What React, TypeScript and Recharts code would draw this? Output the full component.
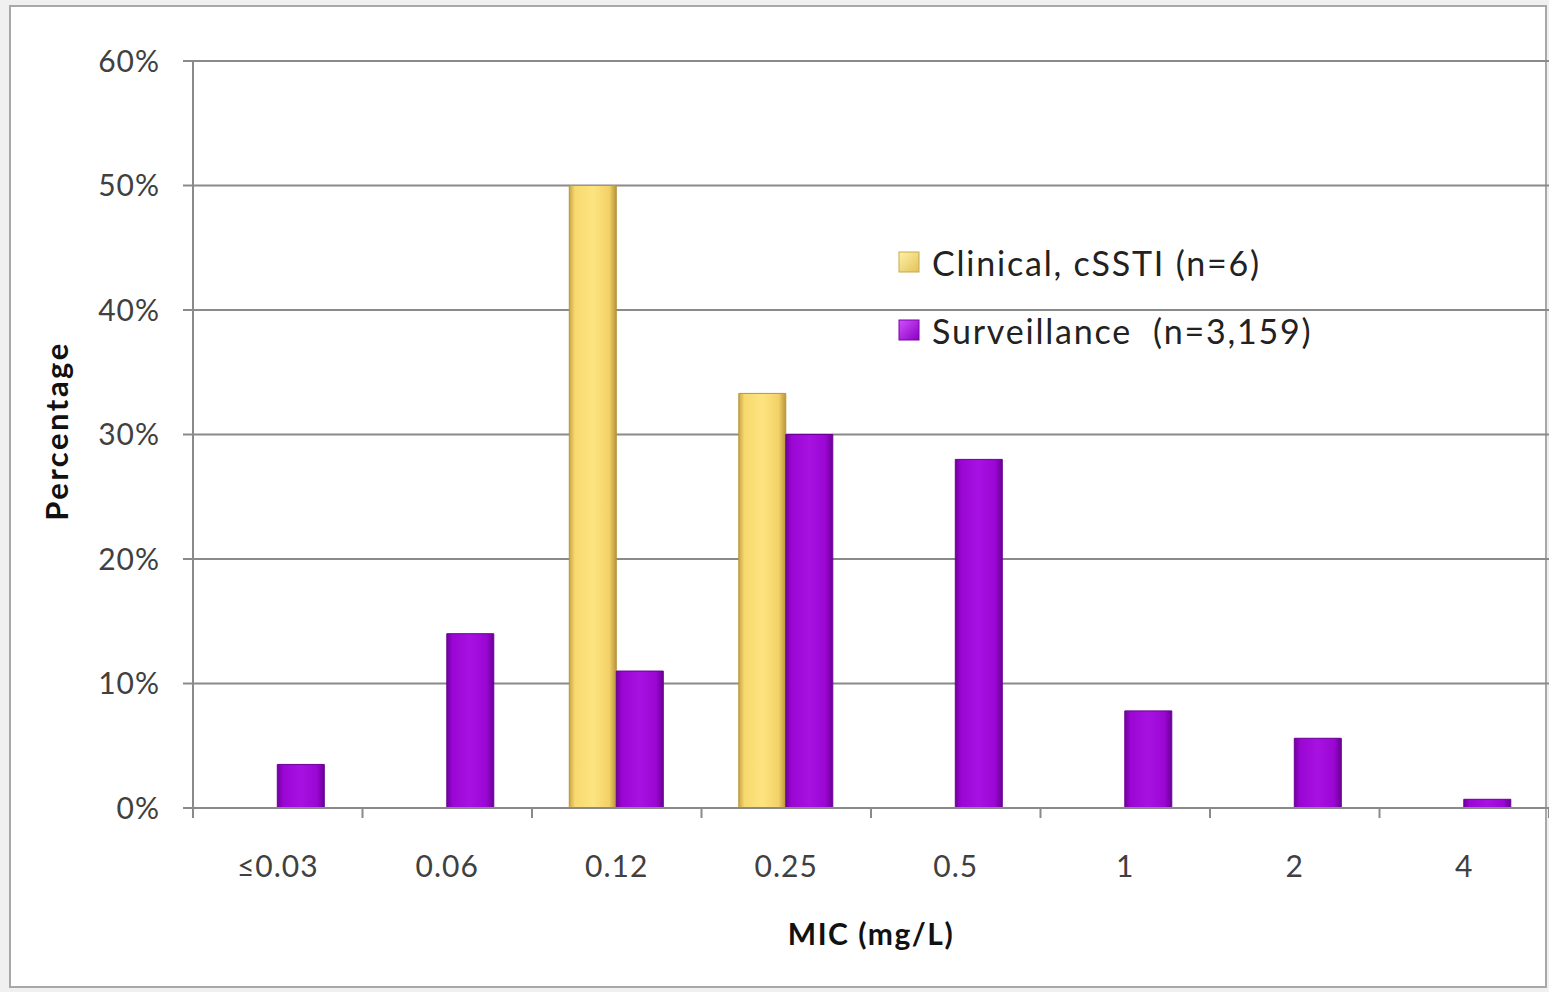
import React from 'react';
import {
  BarChart,
  Bar,
  XAxis,
  YAxis,
  CartesianGrid,
  Legend,
  Label,
} from 'recharts';

// MIC categories and percentage of isolates per category
const categories = ['≤0.03', '0.06', '0.12', '0.25', '0.5', '1', '2', '4'];
const clinical = [0, 0, 50, 33.3, 0, 0, 0, 0];
const surveillance = [3.5, 14, 11, 30, 28, 7.8, 5.6, 0.7];
const yTicks = [0, 10, 20, 30, 40, 50, 60];

const seriesNames: Record<string, string> = {
  clinical: 'Clinical, cSSTI (n=6)',
  surveillance: 'Surveillance  (n=3,159)',
};

const W = 1549;
const H = 992;
const PLOT_LEFT = 193;
const BAND = (W - PLOT_LEFT) / categories.length;
const GRID = '#8a8a8a';
const FONT = 'Lato, "Open Sans", sans-serif';

const data = categories.map((c, i) => ({
  mic: c,
  clinical: clinical[i],
  surveillance: surveillance[i],
}));

const XTick = (props: any) => {
  const { x, y, payload, index } = props;
  return (
    <g>
      <line x1={x - BAND / 2} x2={x - BAND / 2} y1={y - 10} y2={y} stroke={GRID} strokeWidth={2} />
      {index === categories.length - 1 && (
        <line x1={x + BAND / 2} x2={x + BAND / 2} y1={y - 10} y2={y} stroke={GRID} strokeWidth={2} />
      )}
      <text
        x={x}
        y={y + 59}
        textAnchor="middle"
        fill="#404040"
        fontSize={30}
        letterSpacing={1}
        fontFamily={FONT}
      >
        {payload.value}
      </text>
    </g>
  );
};

const swatch: Record<string, string> = {
  clinical: 'url(#lgYellow)',
  surveillance: 'url(#lgPurple)',
};

const LegendBox = (props: any) => {
  const { payload } = props;
  return (
    <div style={{ fontFamily: FONT }}>
      {(payload || []).map((p: any) => (
        <div
          key={p.dataKey}
          style={{ display: 'flex', alignItems: 'center', height: 68, fontSize: 34, color: '#222' }}
        >
          <svg width={22} height={22} style={{ marginRight: 12 }}>
            <rect
              x={1}
              y={1}
              width={20}
              height={20}
              fill={swatch[p.dataKey]}
              stroke={p.dataKey === 'clinical' ? '#c9a94a' : '#7a00a8'}
            />
          </svg>
          <span style={{ whiteSpace: 'pre', letterSpacing: 1.8 }}>{seriesNames[p.dataKey]}</span>
        </div>
      ))}
    </div>
  );
};

export default function App() {
  return (
    <div style={{ position: 'absolute', left: 0, top: 0, width: W, height: H, background: '#f0f0f0' }}>
      <div
        style={{
          position: 'absolute',
          left: 9,
          top: 5,
          width: W - 11,
          height: H - 9,
          background: '#fff',
          border: '2px solid #a8a8a8',
          boxSizing: 'border-box',
        }}
      />
      <div style={{ position: 'absolute', left: 0, top: 0 }}>
        <BarChart
          width={W}
          height={H}
          data={data}
          margin={{ top: 61, right: 0, left: 0, bottom: 0 }}
          barCategoryGap="22%"
          barGap={0}
        >
          <defs>
            <linearGradient id="gYellow" x1="0" y1="0" x2="1" y2="0">
              <stop offset="0%" stopColor="#c9a74a" />
              <stop offset="12%" stopColor="#f7d96e" />
              <stop offset="50%" stopColor="#fde480" />
              <stop offset="85%" stopColor="#f3d167" />
              <stop offset="100%" stopColor="#b8953a" />
            </linearGradient>
            <linearGradient id="gPurple" x1="0" y1="0" x2="1" y2="0">
              <stop offset="0%" stopColor="#7000a0" />
              <stop offset="12%" stopColor="#9a06d2" />
              <stop offset="50%" stopColor="#a712e2" />
              <stop offset="85%" stopColor="#9a06d2" />
              <stop offset="100%" stopColor="#6a0096" />
            </linearGradient>
            <linearGradient id="lgYellow" x1="0" y1="0" x2="1" y2="1">
              <stop offset="0%" stopColor="#fff1a8" />
              <stop offset="100%" stopColor="#e3c258" />
            </linearGradient>
            <linearGradient id="lgPurple" x1="0" y1="0" x2="1" y2="1">
              <stop offset="0%" stopColor="#d050ff" />
              <stop offset="100%" stopColor="#8a00c0" />
            </linearGradient>
          </defs>
          <CartesianGrid vertical={false} stroke={GRID} strokeWidth={2} />
          <XAxis
            dataKey="mic"
            height={992 - 808}
            tickLine={false}
            tickSize={10}
            tickMargin={0}
            axisLine={{ stroke: GRID, strokeWidth: 2 }}
            tick={<XTick />}
            interval={0}
          >
            <Label
              value="MIC (mg/L)"
              position="insideBottom"
              offset={47}
              fill="#111"
              fontSize={30}
              fontWeight="bold"
              letterSpacing={1.5}
              fontFamily={FONT}
            />
          </XAxis>
          <YAxis
            width={PLOT_LEFT}
            domain={[0, 60]}
            ticks={yTicks}
            tickFormatter={(v: number) => `${v}%`}
            tickSize={10}
            tickMargin={23}
            tickLine={{ stroke: GRID, strokeWidth: 2 }}
            axisLine={{ stroke: GRID, strokeWidth: 2 }}
            tick={{ fill: '#404040', fontSize: 30, fontFamily: FONT, letterSpacing: 1 }}
          >
            <Label
              content={() => (
                <text
                  x={0}
                  y={0}
                  transform="translate(68, 431) rotate(-90)"
                  textAnchor="middle"
                  fill="#111"
                  fontSize={31}
                  fontWeight="bold"
                  letterSpacing={2.5}
                  fontFamily={FONT}
                >
                  Percentage
                </text>
              )}
            />
          </YAxis>
          <Legend
            layout="vertical"
            align="center"
            verticalAlign="middle"
            content={<LegendBox />}
            wrapperStyle={{ left: 898, top: 228, width: 480 }}
          />
          <Bar dataKey="clinical" fill="url(#gYellow)" stroke="#b8953a" strokeWidth={1} isAnimationActive={false} />
          <Bar dataKey="surveillance" fill="url(#gPurple)" stroke="#6a0096" strokeWidth={1} isAnimationActive={false} />
        </BarChart>
      </div>
    </div>
  );
}
